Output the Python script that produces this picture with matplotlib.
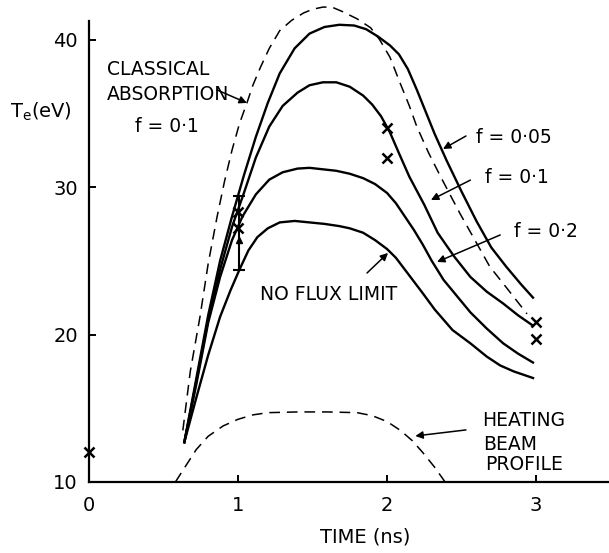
import numpy as np
import matplotlib
matplotlib.use("Agg")
import matplotlib.pyplot as plt

# curves: time (ns), Te (eV)
t_f005 = [0.64, 0.72, 0.80, 0.88, 0.96, 1.04, 1.12, 1.20, 1.28, 1.38, 1.48, 1.58, 1.68, 1.78,
          1.86, 1.94, 2.02, 2.08, 2.14, 2.20, 2.26, 2.32, 2.40, 2.50, 2.60, 2.70, 2.80, 2.90, 2.98]
T_f005 = [12.7, 17.0, 21.3, 25.0, 28.0, 30.8, 33.4, 35.7, 37.7, 39.4, 40.4, 40.85, 41.0, 40.95,
          40.7, 40.2, 39.6, 39.0, 38.0, 36.6, 35.1, 33.6, 31.8, 29.7, 27.7, 25.9, 24.6, 23.4, 22.5]

t_f01 = [0.64, 0.72, 0.80, 0.88, 0.96, 1.04, 1.12, 1.21, 1.30, 1.40, 1.48, 1.57, 1.66, 1.75,
         1.84, 1.90, 1.96, 2.02, 2.08, 2.15, 2.25, 2.34, 2.45, 2.56, 2.67, 2.78, 2.88, 2.98]
T_f01 = [12.7, 16.8, 21.0, 24.4, 27.3, 29.6, 32.0, 34.1, 35.5, 36.4, 36.9, 37.1, 37.1, 36.8,
         36.2, 35.6, 34.8, 33.7, 32.3, 30.7, 28.8, 26.9, 25.3, 23.9, 22.9, 22.1, 21.3, 20.6]

t_f02 = [0.64, 0.72, 0.80, 0.88, 0.96, 1.03, 1.12, 1.21, 1.30, 1.40, 1.48, 1.57, 1.66, 1.75,
         1.84, 1.92, 2.00, 2.06, 2.12, 2.18, 2.24, 2.30, 2.38, 2.47, 2.56, 2.67, 2.78, 2.88, 2.98]
T_f02 = [12.7, 16.6, 20.8, 23.9, 26.4, 28.0, 29.5, 30.5, 31.0, 31.25, 31.3, 31.2, 31.1, 30.9,
         30.6, 30.2, 29.6, 28.9, 28.0, 27.1, 26.1, 25.0, 23.7, 22.6, 21.5, 20.4, 19.4, 18.7, 18.1]

t_nfl = [0.64, 0.72, 0.80, 0.88, 0.95, 1.01, 1.07, 1.13, 1.20, 1.28, 1.38, 1.48, 1.58, 1.68,
         1.75, 1.84, 1.92, 2.00, 2.06, 2.12, 2.18, 2.24, 2.32, 2.44, 2.56, 2.67, 2.76, 2.85, 2.98]
T_nfl = [12.7, 15.7, 18.6, 21.2, 23.0, 24.4, 25.7, 26.6, 27.2, 27.6, 27.7, 27.6, 27.5, 27.35,
         27.2, 26.9, 26.4, 25.8, 25.2, 24.4, 23.6, 22.8, 21.7, 20.3, 19.4, 18.5, 17.9, 17.5, 17.05]

t_class = [0.63, 0.68, 0.745, 0.80, 0.86, 0.91, 0.96, 1.01, 1.06, 1.10, 1.15, 1.21, 1.28, 1.36,
           1.44, 1.50, 1.57, 1.63, 1.70, 1.80, 1.89, 1.95, 2.02, 2.09, 2.15, 2.20, 2.28, 2.36,
           2.49, 2.59, 2.69, 2.80, 2.94]
T_class = [13.5, 17.5, 21.2, 24.8, 28.0, 30.4, 32.5, 34.3, 35.7, 36.9, 38.1, 39.4, 40.6, 41.3,
           41.8, 42.05, 42.2, 42.2, 41.9, 41.4, 40.8, 40.0, 38.8, 37.0, 35.5, 34.1, 32.3, 30.7,
           28.2, 26.4, 24.6, 23.2, 21.4]

t_beam = [0.58, 0.65, 0.72, 0.80, 0.90, 1.00, 1.10, 1.20, 1.40, 1.60, 1.80, 1.90, 2.00, 2.09,
          2.17, 2.24, 2.32, 2.39]
T_beam = [10.0, 11.1, 12.2, 13.1, 13.8, 14.25, 14.55, 14.7, 14.75, 14.75, 14.7, 14.5, 14.1, 13.5,
          12.8, 12.0, 11.0, 10.0]

# measured points (crosses)
t_meas = [0.0, 1.0, 1.0, 2.0, 2.0, 3.0, 3.0]
T_meas = [12.0, 28.3, 27.2, 34.0, 32.0, 20.85, 19.7]
err_t = 1.01
err_lo = 24.4
err_hi = 29.4

plt.rcParams['font.family'] = ['DejaVu Sans']
fig = plt.figure(figsize=(6.09, 5.53), dpi=100)
ax = fig.add_axes([0.1461, 0.1284, 0.8539, 0.8716])

lw = 1.7
ax.plot(t_f005, T_f005, color='k', lw=lw)
ax.plot(t_f01, T_f01, color='k', lw=lw)
ax.plot(t_f02, T_f02, color='k', lw=lw)
ax.plot(t_nfl, T_nfl, color='k', lw=lw)
ax.plot(t_class, T_class, color='k', lw=1.1, dashes=(7, 4.5))
ax.plot(t_beam, T_beam, color='k', lw=1.1, dashes=(7, 4.5), clip_on=False)

ax.plot(t_meas, T_meas, 'x', color='k', ms=7, mew=1.8, clip_on=False)
ax.plot([err_t, err_t], [err_lo, err_hi], color='k', lw=1.5)
ax.plot([err_t], [err_hi], marker='_', color='k', ms=8, mew=1.5)
ax.plot([err_t], [err_lo], marker='_', color='k', ms=8, mew=1.5)
ax.plot([err_t], [26.4], marker='^', color='k', ms=4)

ax.set_xlim(0, 3.49)
ax.set_ylim(10, 42.68)
for s in ['top', 'right']:
    ax.spines[s].set_visible(False)
ax.spines['left'].set_bounds(10, 41.25)
ax.spines['left'].set_linewidth(1.6)
ax.spines['bottom'].set_linewidth(1.6)
ax.set_xticks([0, 1, 2, 3])
ax.set_yticks([10, 20, 30, 40])
ax.tick_params(direction='in', length=5, width=1.4, labelsize=14, pad=8)
ax.tick_params(axis='x', pad=10)

fs = 13.5
ax.text(0.12, 37.97, 'CLASSICAL', fontsize=fs, va='center', ha='left')
ax.text(0.12, 36.24, 'ABSORPTION', fontsize=fs, va='center', ha='left')
ax.text(0.31, 34.1, 'f = 0·1', fontsize=fs, va='center', ha='left')
ax.text(2.60, 33.36, 'f = 0·05', fontsize=fs, va='center', ha='left')
ax.text(2.66, 30.64, 'f = 0·1', fontsize=fs, va='center', ha='left')
ax.text(2.85, 26.98, 'f = 0·2', fontsize=fs, va='center', ha='left')
ax.text(1.148, 22.68, 'NO FLUX LIMIT', fontsize=fs, va='center', ha='left')
ax.text(2.64, 14.17, 'HEATING', fontsize=fs, va='center', ha='left')
ax.text(2.644, 12.54, 'BEAM', fontsize=fs, va='center', ha='left')
ax.text(2.658, 11.19, 'PROFILE', fontsize=fs, va='center', ha='left')

arrow = dict(arrowstyle='-|>', color='k', lw=1.1, mutation_scale=11, shrinkA=0, shrinkB=0)
ax.annotate('', xy=(1.06, 35.7), xytext=(0.86, 36.58), arrowprops=arrow)
ax.annotate('', xy=(2.376, 32.58), xytext=(2.53, 33.46), arrowprops=arrow)
ax.annotate('', xy=(2.295, 29.12), xytext=(2.56, 30.47), arrowprops=arrow)
ax.annotate('', xy=(2.336, 24.92), xytext=(2.76, 26.75), arrowprops=arrow)
ax.annotate('', xy=(2.007, 25.53), xytext=(1.866, 24.17), arrowprops=arrow)
ax.annotate('', xy=(2.19, 13.12), xytext=(2.53, 13.53), arrowprops=arrow)

fig.text(0.0164, 0.797, r'$\mathrm{T_e}$(eV)', fontsize=14, va='center', ha='left')
fig.text(0.599, 0.029, 'TIME (ns)', fontsize=14, va='center', ha='center')

fig.savefig('out.png', dpi=100)
